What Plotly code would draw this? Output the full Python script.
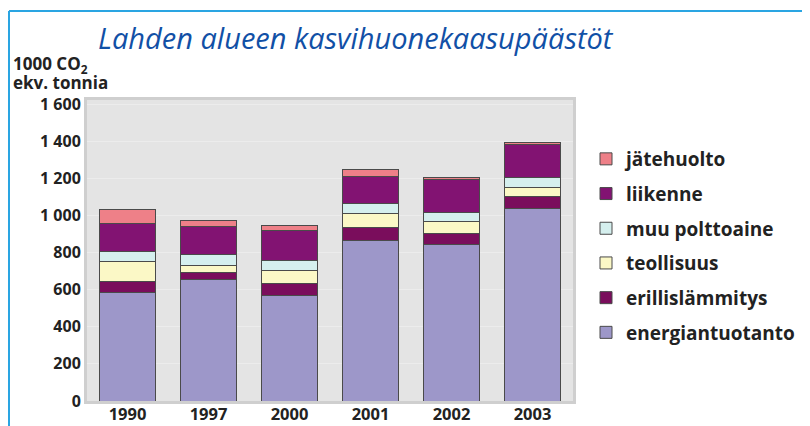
import plotly.graph_objects as go

years = ["1990", "1997", "2000", "2001", "2002", "2003"]
energiantuotanto = [585, 655, 569, 867, 842, 1038]
erillislammitys = [58, 39, 66, 68, 63, 65]
teollisuus = [110, 36, 67, 73, 61, 48]
muu_polttoaine = [53, 60, 54, 54, 50, 54]
liikenne = [153, 149, 162, 147, 180, 175]
jatehuolto = [75, 36, 27, 36, 9, 11]

series_names = ["energiantuotanto", "erillislämmitys", "teollisuus",
                "muu polttoaine", "liikenne", "jätehuolto"]
series_values = [energiantuotanto, erillislammitys, teollisuus,
                 muu_polttoaine, liikenne, jatehuolto]
series_colors = ["#9d97c9", "#7a0d5c", "#fbf8c6", "#d5efee", "#821372", "#ee8088"]

y_tickvals = [0, 200, 400, 600, 800, 1000, 1200, 1400, 1600]
y_ticktext = ["0", "200", "400", "600", "800", "1 000", "1 200", "1 400", "1 600"]

fig = go.Figure()
n = len(series_names)
for i, (name, vals, col) in enumerate(zip(series_names, series_values, series_colors)):
    fig.add_trace(go.Bar(
        x=years, y=vals, name=name, legendgroup=name, legendrank=(n - i) * 10,
        marker=dict(color=col, line=dict(color="#4a4a4a", width=1)),
    ))

font_main = "Open Sans"

# The page body has an 8px margin, so the figure sits at (8, 8) on screen.
OFF = 8
W, H = 802, 418
# plot area in screen pixels: x 87..573, y 100..401
L = 87 - OFF
R = W - (573 - OFF)
T = 100 - OFF
B = H - (401 - OFF)
pw, ph = W - L - R, H - T - B

def px_x(sx):
    return (sx - OFF - L) / pw

def px_y(sy):
    return (H - B - (sy - OFF)) / ph

frame = dict(color="#2aa5e2", width=2)

fig.update_layout(
    width=W, height=H,
    margin=dict(l=L, r=R, t=T, b=B, pad=0, autoexpand=False),
    barmode="stack",
    bargap=0.31,
    paper_bgcolor="white",
    plot_bgcolor="#e4e4e4",
    showlegend=True,
    legend=dict(
        traceorder="grouped",
        x=px_x(586), xanchor="left",
        y=px_y(140), yanchor="top",
        font=dict(family=font_main, size=19, color="#222222", weight="bold"),
        tracegroupgap=7,
        bgcolor="rgba(0,0,0,0)",
        itemwidth=30,
    ),
    font=dict(family=font_main, color="#222222"),
    xaxis=dict(
        automargin=False,
        showline=True, linecolor="#cfcfcf", linewidth=3, mirror=True,
        ticks="", ticklabelstandoff=-4,
        tickfont=dict(size=16.5, family=font_main, color="#222222", weight="bold"),
        showgrid=False,
    ),
    yaxis=dict(
        automargin=False,
        range=[0, 1622],
        tickvals=y_tickvals, ticktext=y_ticktext,
        showline=True, linecolor="#cfcfcf", linewidth=3, mirror=True,
        showgrid=True, gridcolor="#ececec", gridwidth=1,
        zeroline=False,
        ticks="", ticklabelstandoff=0,
        tickfont=dict(size=16, family=font_main, color="#222222", weight="bold"),
    ),
    annotations=[
        dict(text="Lahden alueen kasvihuonekaasupäästöt",
             xref="paper", yref="paper", x=px_x(96), y=px_y(37),
             xanchor="left", yanchor="middle", showarrow=False,
             font=dict(family=font_main, size=29, color="#1150a6", style="italic")),
        dict(text="<b>1000 CO<sub>2</sub></b>",
             xref="paper", yref="paper", x=px_x(11), y=px_y(64),
             xanchor="left", yanchor="middle", align="left", showarrow=False,
             font=dict(family=font_main, size=17, color="#222222")),
        dict(text="<b>ekv. tonnia</b>",
             xref="paper", yref="paper", x=px_x(11), y=px_y(82),
             xanchor="left", yanchor="middle", align="left", showarrow=False,
             font=dict(family=font_main, size=17, color="#222222")),
    ],
    shapes=[
        dict(type="line", xref="paper", yref="paper",
             x0=px_x(9), x1=px_x(807), y0=px_y(11), y1=px_y(11), line=frame),
        dict(type="line", xref="paper", yref="paper",
             x0=px_x(807), x1=px_x(807), y0=px_y(11), y1=px_y(426), line=frame),
        dict(type="line", xref="paper", yref="paper",
             x0=px_x(9), x1=px_x(9), y0=px_y(11), y1=px_y(426), line=frame),
    ],
)

fig.write_html("out.html")
